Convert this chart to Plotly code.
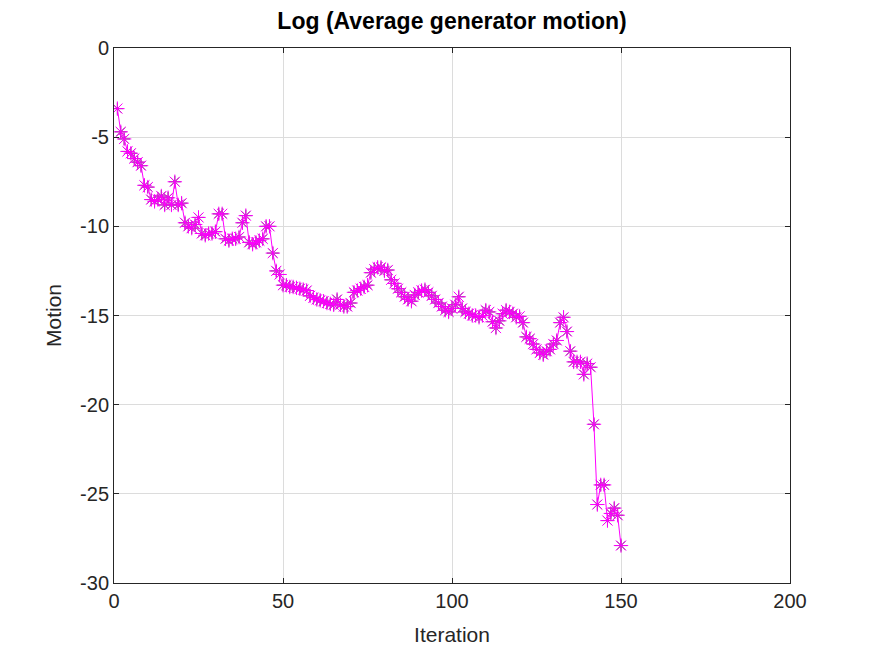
import plotly.graph_objects as go

iterations = list(range(1, 151))
motion = [
    -3.4, -4.7, -5.1, -5.8, -5.9, -6.2, -6.4, -6.6, -7.7, -7.8,
    -8.5, -8.6, -8.5, -8.3, -8.8, -8.4, -8.8, -7.5, -8.8, -8.7,
    -9.8, -10.0, -10.1, -9.9, -9.5, -10.4, -10.5, -10.4, -10.4, -10.3,
    -9.3, -9.3, -10.7, -10.8, -10.7, -10.7, -10.6, -9.8, -9.4, -10.9,
    -11.0, -10.9, -10.8, -10.7, -10.0, -10.0, -11.5, -12.5, -12.7, -13.3,
    -13.3, -13.4, -13.4, -13.45, -13.5, -13.55, -13.6, -13.9, -14.0, -14.1,
    -14.15, -14.2, -14.3, -14.35, -14.4, -14.1, -14.4, -14.5, -14.5, -14.3,
    -13.7, -13.6, -13.5, -13.4, -13.3, -12.6, -12.4, -12.3, -12.3, -12.5,
    -12.45, -13.0, -13.2, -13.5, -13.7, -13.95, -14.1, -14.2, -13.85, -13.7,
    -13.6, -13.55, -13.7, -13.9, -14.1, -14.3, -14.5, -14.7, -14.8, -14.6,
    -14.4, -13.95, -14.6, -14.8, -14.9, -15.0, -15.0, -15.1, -15.0, -14.7,
    -14.8, -15.35, -15.7, -15.3, -14.9, -14.7, -14.8, -14.9, -15.1, -15.05,
    -15.4, -16.2, -16.3, -16.6, -16.9, -17.1, -17.2, -17.0, -16.9, -16.6,
    -16.4, -15.4, -15.1, -15.9, -17.0, -17.6, -17.6, -17.6, -18.3, -17.7,
    -17.9, -21.1, -25.6, -24.5, -24.5, -26.5, -26.1, -25.8, -26.2, -27.9,
]

x_ticks = [0, 50, 100, 150, 200]
y_ticks = [0, -5, -10, -15, -20, -25, -30]
y_tick_labels = ["0", "-5", "-10", "-15", "-20", "-25", "-30"]

FONT = "Liberation Sans, Arial, sans-serif"

fig = go.Figure()
fig.add_trace(go.Scatter(
    x=iterations, y=motion, mode="markers",
    marker=dict(symbol="asterisk-open", size=10, color="#404040",
                line=dict(color="#404040", width=1)),
    showlegend=False, hoverinfo="skip",
))
fig.add_trace(go.Scatter(
    x=iterations, y=motion, mode="lines+markers",
    line=dict(color="#ff00ff", width=1),
    marker=dict(symbol="asterisk-open", size=12, color="#ff00ff",
                line=dict(color="#ff00ff", width=1)),
    showlegend=False,
))

axis_common = dict(
    showline=True, linecolor="#262626", linewidth=1, mirror="ticks",
    ticks="inside", ticklen=5, tickcolor="#262626",
    showgrid=True, gridcolor="#dcdcdc", gridwidth=1,
    zeroline=False,
    tickfont=dict(family=FONT, size=20, color="#262626"),
)

fig.update_layout(
    width=873, height=655,
    paper_bgcolor="white", plot_bgcolor="white",
    margin=dict(l=106, r=91, t=40, b=80),
    title=dict(text="<b>Log (Average generator motion)</b>", x=0.5, xref="paper",
               y=1 - 13 / 655, yanchor="middle",
               font=dict(family=FONT, size=23, color="black")),
    xaxis=dict(range=[0, 200], tickvals=x_ticks,
               title=dict(text="Iteration", font=dict(family=FONT, size=21, color="#262626"),
                          standoff=16),
               **axis_common),
    yaxis=dict(range=[-30, 0], tickvals=y_ticks, ticktext=y_tick_labels,
               title=dict(text="Motion", font=dict(family=FONT, size=21, color="#262626"),
                          standoff=12),
               **axis_common),
)

fig.write_html("out.html")
